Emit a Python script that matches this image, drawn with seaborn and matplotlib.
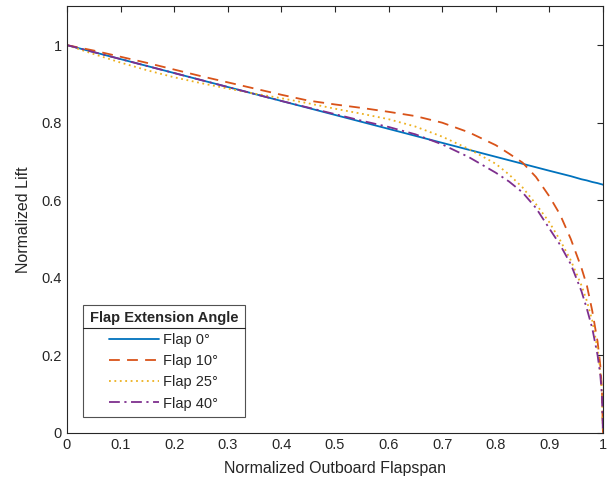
import numpy as np
import pandas as pd
import matplotlib
matplotlib.use("Agg")
import matplotlib.pyplot as plt
from matplotlib.ticker import FuncFormatter
from matplotlib.lines import Line2D
import seaborn as sns

span = [0, 0.05, 0.1, 0.15, 0.2, 0.25, 0.3, 0.35, 0.4, 0.45, 0.5, 0.55, 0.6, 0.65, 0.7, 0.75,
        0.8, 0.825, 0.85, 0.875, 0.9, 0.92, 0.94, 0.96, 0.97, 0.98, 0.99, 0.995, 0.998, 1.0]
flap0 = [1.0, 0.982, 0.964, 0.946, 0.928, 0.910, 0.892, 0.874, 0.856, 0.838, 0.820, 0.802, 0.784, 0.766, 0.748, 0.730,
         0.712, 0.703, 0.694, 0.685, 0.676, 0.669, 0.662, 0.654, 0.651, 0.647, 0.644, 0.642, 0.641, 0.640]
flap10 = [1.0, 0.986, 0.970, 0.954, 0.937, 0.920, 0.904, 0.888, 0.872, 0.857, 0.847, 0.838, 0.828, 0.817, 0.800, 0.775,
          0.742, 0.720, 0.697, 0.660, 0.610, 0.563, 0.500, 0.425, 0.380, 0.315, 0.235, 0.175, 0.115, 0.0]
flap25 = [1.0, 0.977, 0.955, 0.935, 0.917, 0.902, 0.888, 0.875, 0.863, 0.850, 0.836, 0.823, 0.809, 0.790, 0.764, 0.732,
          0.694, 0.666, 0.633, 0.590, 0.543, 0.497, 0.445, 0.380, 0.340, 0.290, 0.215, 0.160, 0.105, 0.0]
flap40 = [1.0, 0.982, 0.964, 0.946, 0.928, 0.910, 0.892, 0.874, 0.856, 0.839, 0.822, 0.805, 0.789, 0.770, 0.744, 0.711,
          0.671, 0.648, 0.620, 0.580, 0.527, 0.485, 0.435, 0.365, 0.320, 0.270, 0.200, 0.150, 0.100, 0.0]

labels = ['Flap 0°', 'Flap 10°', 'Flap 25°', 'Flap 40°']
colors = ['#0072BD', '#D95319', '#EDB120', '#7E2F8E']
styles = ['-', (0, (6, 4)), (0, (1, 2)), (0, (6, 2.5, 1.2, 2.5))]

sns.set_style("white")
plt.rcParams['font.family'] = ['Liberation Sans', 'DejaVu Sans']

fig = plt.figure(figsize=(6.14, 4.88), dpi=100)
ax = fig.add_axes([0.109, 0.113, 0.873, 0.874])

for ys, lab, c, ls in zip([flap0, flap10, flap25, flap40], labels, colors, styles):
    df = pd.DataFrame({'span': span, 'lift': ys})
    sns.lineplot(data=df, x='span', y='lift', ax=ax, color=c, label=lab, linewidth=1.3)
    ax.lines[-1].set_linestyle(ls)

ax.set_xlim(0, 1)
ax.set_ylim(0, 1.1)
ax.set_xticks(np.arange(0, 1.01, 0.1))
ax.set_yticks([0, 0.2, 0.4, 0.6, 0.8, 1.0])
fmt = FuncFormatter(lambda v, p: '%g' % round(v, 2))
ax.xaxis.set_major_formatter(fmt)
ax.yaxis.set_major_formatter(fmt)
ax.tick_params(direction='in', top=True, right=True, length=4, width=0.8,
               colors='#262626', labelsize=10.5)
for s in ax.spines.values():
    s.set_color('#262626')
    s.set_linewidth(0.8)
ax.set_xlabel('Normalized Outboard Flapspan', fontsize=11.5, color='#262626', labelpad=7)
ax.set_ylabel('Normalized Lift', fontsize=11.5, color='#262626', labelpad=8)

leg = ax.legend(loc='lower left', bbox_to_anchor=(0.03, 0.037), borderaxespad=0,
                title='Flap Extension Angle', fontsize=10.5, frameon=True, fancybox=False,
                edgecolor='#262626', handlelength=3.4, handletextpad=0.3, borderpad=0.45,
                labelspacing=0.5)
leg.get_title().set_fontweight('bold')
leg.get_title().set_fontsize(10.5)
leg.get_frame().set_linewidth(0.8)

# separator line under the legend title
fig.canvas.draw()
r = fig.canvas.get_renderer()
lb = leg.get_window_extent(r)
tb = leg.get_title().get_window_extent(r)
ysep = tb.y0 - 3
inv = fig.transFigure.inverted()
(x0, y0), (x1, _) = inv.transform([(lb.x0, ysep), (lb.x1, ysep)])
fig.add_artist(Line2D([x0, x1], [y0, y0], transform=fig.transFigure, color='#262626', linewidth=0.8))

plt.savefig("out.png", dpi=100)
